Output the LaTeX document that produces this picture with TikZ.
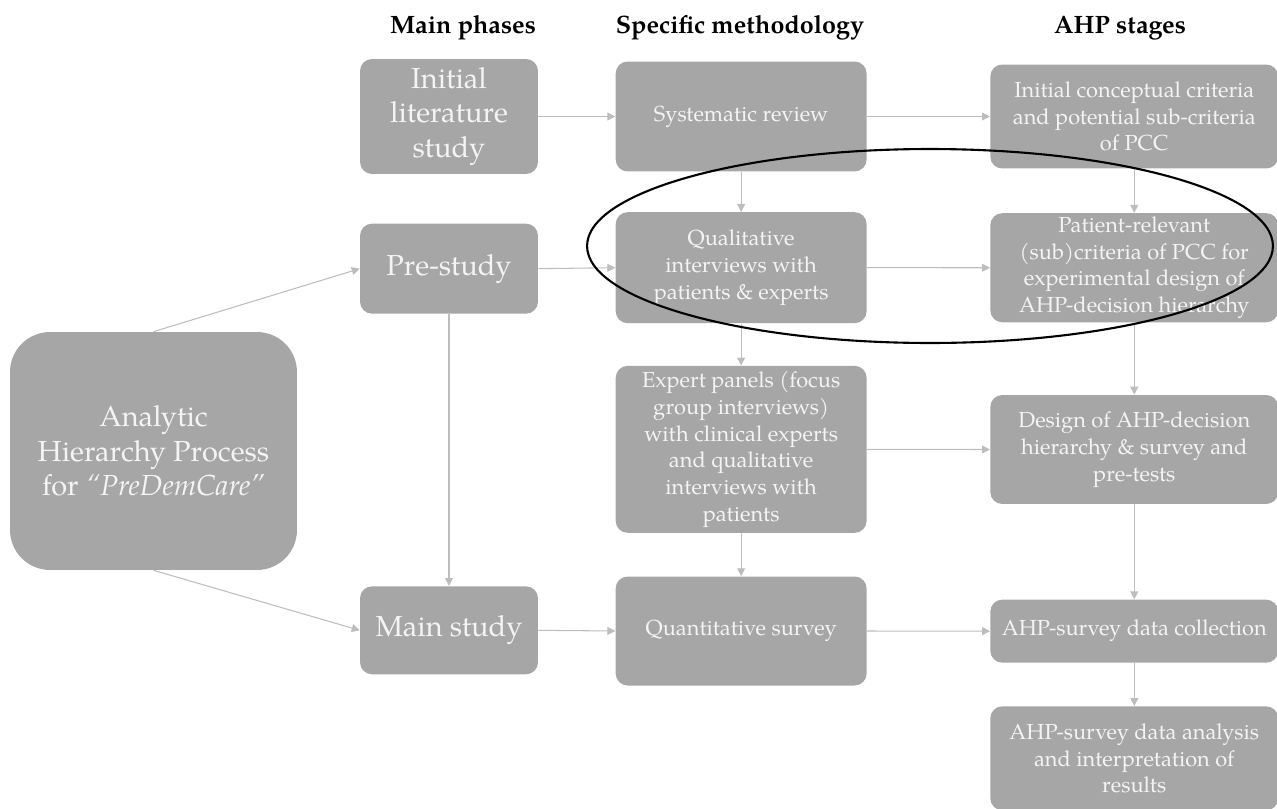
\documentclass[tikz,border=0pt]{standalone}
\usepackage{fontspec}
\setmainfont{TeX Gyre Pagella}
\usepackage{xcolor}
\usepackage{tikz}
\usetikzlibrary{arrows.meta, positioning}

\definecolor{boxgray}{HTML}{A6A6A6}
\definecolor{linegray}{HTML}{BDBDBD}
\definecolor{boxtext}{HTML}{F4F4F4}

\begin{document}
\begin{tikzpicture}[
            x=0.02cm, y=-0.02cm,
            box/.style={rectangle, rounded corners=0.24cm, fill=boxgray, text=boxtext,
                align=center, inner sep=2pt, font=\fontsize{12.4}{15.2}\selectfont},
            phase/.style={box, minimum width=3.56cm, font=\fontsize{16.5}{19.5}\selectfont},
            method/.style={box, minimum width=5.02cm},
            stage/.style={box, minimum width=5.76cm},
            title/.style={font=\fontsize{14.3}{17}\selectfont\bfseries},
            flow/.style={draw=linegray, line width=0.6pt, -{Triangle[length=4.5pt, width=4.5pt]}}
        ]
        \useasboundingbox (0,0) rectangle (1277,808);

        % Column titles
        \node[title] (t1) at (463,28) {Main phases};
        \node[title] (t2) at (740,28) {Specific methodology};
        \node[title] (t3) at (1120,28) {AHP stages};

        % Main phases
        \node[phase, minimum width=5.74cm, minimum height=4.76cm, rounded corners=0.8cm] (ahp) at (153.5,451)
            {Analytic\\Hierarchy Process\\for \textit{``PreDemCare''}};
        \node[phase, minimum height=2.3cm] (lit) at (449,116.5) {Initial\\literature\\study};
        \node[phase, minimum height=1.8cm, below=0.98cm of lit] (pre) {Pre-study};
        \node[phase, minimum height=1.76cm, below=5.44cm of pre] (mainst) {Main study};

        % Specific methodology
        \node[method, minimum height=2.2cm, right=1.54cm of lit] (sysrev) {Systematic review};
        \node[method, minimum height=2.22cm, below=0.8cm of sysrev] (qual)
            {Qualitative\\interviews with\\patients \& experts};
        \node[method, minimum height=3.34cm, below=0.84cm of qual] (expert)
            {Expert panels (focus\\group interviews)\\with clinical experts\\and qualitative\\interviews with\\patients};
        \node[method, minimum height=2.18cm, below=0.86cm of expert] (quant) {Quantitative survey};

        % AHP stages
        \node[stage, minimum height=2.08cm, right=2.46cm of sysrev] (initcrit)
            {Initial conceptual criteria\\and potential sub-criteria\\of PCC};
        \node[stage, minimum height=2.18cm, below=0.88cm of initcrit] (patrel)
            {Patient-relevant\\(sub)criteria of PCC for\\experimental design of\\AHP-decision hierarchy};
        \node[stage, minimum height=2.18cm, below=1.44cm of patrel] (design)
            {Design of AHP-decision\\hierarchy \& survey and\\pre-tests};
        \node[stage, minimum height=1.26cm, below=1.9cm of design] (collect) {AHP-survey data collection};
        \node[stage, minimum height=2.08cm, below=0.86cm of collect] (analys)
            {AHP-survey data analysis\\and interpretation of\\results};

        % Connections
        \draw[flow] (ahp.north) -- (pre.west);
        \draw[flow] (ahp.south) -- (mainst.west);
        \draw[flow] (pre.south) -- (mainst.north);
        \draw[flow] (lit.east) -- (sysrev.west);
        \draw[flow] (pre.east) -- (qual.west);
        \draw[flow] (mainst.east) -- (quant.west);
        \draw[flow] (sysrev.east) -- (initcrit.west);
        \draw[flow] (qual.east) -- (patrel.west);
        \draw[flow] (expert.east) -- (design.west);
        \draw[flow] (quant.east) -- (collect.west);
        \draw[flow] (sysrev) -- (qual);
        \draw[flow] (qual) -- (expert);
        \draw[flow] (expert) -- (quant);
        \draw[flow] (initcrit) -- (patrel);
        \draw[flow] (patrel) -- (design);
        \draw[flow] (design) -- (collect);
        \draw[flow] (collect) -- (analys);

        % Highlight
        \draw[line width=1.2pt] (930,246) ellipse [x radius=6.86cm, y radius=1.94cm];

    \end{tikzpicture}
\end{document}
